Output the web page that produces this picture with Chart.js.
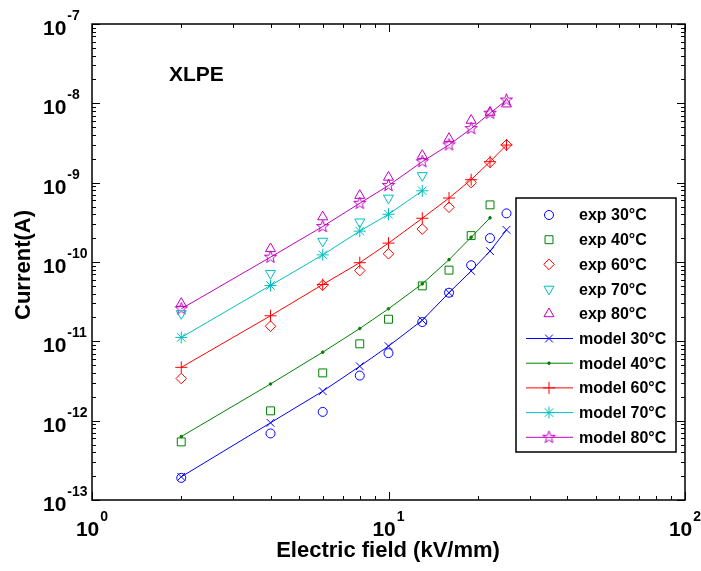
<!DOCTYPE html>
<html>
<head>
<meta charset="utf-8">
<script src="https://cdn.jsdelivr.net/npm/chart.js@4.4.0/dist/chart.umd.min.js"></script>
<style>
    body { margin: 0; background: #fff; overflow: hidden; }
    #wrap { width: 701px; height: 571px; position: relative; }
</style>
</head>
<body>
<div id="wrap"><canvas id="ivChart"></canvas></div>
<script>
// Electric field values (kV/mm)
var fieldKV = [2, 4, 6, 8, 10, 13, 16, 19, 22, 25];

// Measured currents (A)
var exp30 = [1.9e-13, 6.9e-13, 1.29e-12, 3.7e-12, 7.1e-12, 1.75e-11, 4.1e-11, 9.1e-11, 2.0e-10, 4.1e-10];
var exp40 = [5.4e-13, 1.33e-12, 4.0e-12, 9.3e-12, 1.9e-11, 5.0e-11, 7.9e-11, 2.15e-10, 5.25e-10];
var exp60 = [3.4e-12, 1.55e-11, 5.1e-11, 7.8e-11, 1.27e-10, 2.6e-10, 4.9e-10, 1.0e-9, 1.8e-9, 3.0e-9];
var exp70 = [2.24e-11, 7.2e-11, 1.83e-10, 3.2e-10, 6.4e-10, 1.23e-9];
var exp80 = [3.0e-11, 1.47e-10, 3.7e-10, 6.9e-10, 1.17e-9, 2.2e-9, 3.6e-9, 6.1e-9, 7.7e-9, 9.8e-9];

// Model currents (A)
var model30 = [1.96e-13, 9.4e-13, 2.35e-12, 4.85e-12, 8.7e-12, 1.84e-11, 4.1e-11, 7.7e-11, 1.37e-10, 2.54e-10];
var model40 = [6.3e-13, 2.9e-12, 7.3e-12, 1.45e-11, 2.57e-11, 5.3e-11, 1.07e-10, 2.05e-10, 3.6e-10];
var model60 = [4.7e-12, 2.1e-11, 5.2e-11, 9.8e-11, 1.73e-10, 3.56e-10, 6.4e-10, 1.09e-9, 1.84e-9, 2.98e-9];
var model70 = [1.12e-11, 5.06e-11, 1.23e-10, 2.45e-10, 4.0e-10, 7.9e-10];
var model80 = [2.57e-11, 1.15e-10, 2.8e-10, 5.5e-10, 9.2e-10, 1.84e-9, 3.0e-9, 4.8e-9, 7.5e-9, 1.1e-8];

// Axis decades (exponents)
var xDecades = [0, 1, 2];
var yDecades = [-13, -12, -11, -10, -9, -8, -7];

var BLUE = '#0000ff', GREEN = '#008000', RED = '#ff0000', CYAN = '#00bfbf', MAGENTA = '#bf00bf';

// pentagram marker for model 80
function makePentagram(color) {
    var c = document.createElement('canvas');
    c.width = 15; c.height = 15;
    var g = c.getContext('2d');
    g.strokeStyle = color;
    g.lineWidth = 1;
    g.beginPath();
    for (var i = 0; i < 10; i++) {
        var r = (i % 2 === 0) ? 6.5 : 2.6;
        var a = -Math.PI / 2 + i * Math.PI / 5;
        var px = 7.5 + r * Math.cos(a), py = 7.5 + r * Math.sin(a);
        if (i === 0) g.moveTo(px, py); else g.lineTo(px, py);
    }
    g.closePath();
    g.stroke();
    return c;
}
var pentagram = makePentagram(MAGENTA);

function pts(ys) {
    return ys.map(function (v, i) { return { x: fieldKV[i], y: v }; });
}

function expSet(label, ys, color, style, radius, rotation) {
    return {
        label: label, data: pts(ys), showLine: false,
        borderColor: color, backgroundColor: 'rgba(0,0,0,0)',
        pointStyle: style, pointRadius: radius, pointRotation: rotation || 0,
        pointBorderWidth: 1, pointBackgroundColor: 'rgba(0,0,0,0)', pointBorderColor: color,
        isExp: true
    };
}

function modelSet(label, ys, color, style, radius, filled) {
    return {
        label: label, data: pts(ys), showLine: true, borderWidth: 1,
        borderColor: color, backgroundColor: color,
        pointStyle: style, pointRadius: radius, pointBorderWidth: 1,
        pointBackgroundColor: filled ? color : 'rgba(0,0,0,0)', pointBorderColor: color,
        tension: 0, isExp: false
    };
}

var datasets = [
    expSet('exp 30°C', exp30, BLUE, 'circle', 4.5),
    expSet('exp 40°C', exp40, GREEN, 'rect', 5.6),
    expSet('exp 60°C', exp60, RED, 'rectRot', 5.3),
    expSet('exp 70°C', exp70, CYAN, 'triangle', 5.8, 180),
    expSet('exp 80°C', exp80, MAGENTA, 'triangle', 5.8),
    modelSet('model 30°C', model30, BLUE, 'crossRot', 5.5),
    modelSet('model 40°C', model40, GREEN, 'circle', 1.3, true),
    modelSet('model 60°C', model60, RED, 'cross', 6),
    modelSet('model 70°C', model70, CYAN, 'star', 6),
    modelSet('model 80°C', model80, MAGENTA, pentagram, 6)
];

function drawPow(ctx, base, exp, x, baseY, expY) {
    ctx.font = 'bold 21px "Liberation Sans", Arial, sans-serif';
    ctx.textAlign = 'left';
    ctx.textBaseline = 'alphabetic';
    ctx.fillText(base, x, baseY);
    var w = ctx.measureText(base).width;
    ctx.font = 'bold 14px "Liberation Sans", Arial, sans-serif';
    ctx.fillText(String(exp), x + w + 1, expY);
}

// frame, inward ticks, tick labels, titles and legend
var decorPlugin = {
    id: 'decor',
    afterDraw: function (chart) {
        var ctx = chart.ctx, a = chart.chartArea;
        var xs = chart.scales.x, ys = chart.scales.y;
        ctx.save();
        ctx.strokeStyle = '#000';
        ctx.fillStyle = '#000';

        // ticks
        ctx.lineWidth = 1;
        ctx.beginPath();
        xDecades.forEach(function (e, i) {
            var px = Math.round(xs.getPixelForValue(Math.pow(10, e))) + 0.5;
            ctx.moveTo(px, a.bottom); ctx.lineTo(px, a.bottom - 8);
            ctx.moveTo(px, a.top); ctx.lineTo(px, a.top + 8);
            if (i < xDecades.length - 1) {
                for (var m = 2; m <= 9; m++) {
                    var mx = Math.round(xs.getPixelForValue(m * Math.pow(10, e))) + 0.5;
                    ctx.moveTo(mx, a.bottom); ctx.lineTo(mx, a.bottom - 4);
                    ctx.moveTo(mx, a.top); ctx.lineTo(mx, a.top + 4);
                }
            }
        });
        yDecades.forEach(function (e, i) {
            var py = Math.round(ys.getPixelForValue(Math.pow(10, e))) + 0.5;
            ctx.moveTo(a.left, py); ctx.lineTo(a.left + 8, py);
            ctx.moveTo(a.right, py); ctx.lineTo(a.right - 8, py);
            if (i < yDecades.length - 1) {
                for (var m = 2; m <= 9; m++) {
                    var my = Math.round(ys.getPixelForValue(m * Math.pow(10, e))) + 0.5;
                    ctx.moveTo(a.left, my); ctx.lineTo(a.left + 4, my);
                    ctx.moveTo(a.right, my); ctx.lineTo(a.right - 4, my);
                }
            }
        });
        ctx.stroke();

        // frame
        ctx.lineWidth = 1.5;
        ctx.strokeRect(a.left, a.top, a.right - a.left, a.bottom - a.top);

        // y tick labels
        yDecades.forEach(function (e) {
            var py = ys.getPixelForValue(Math.pow(10, e));
            drawPow(ctx, '10', e, 43, py + 11, py - 4);
        });
        // x tick labels
        xDecades.forEach(function (e) {
            var px = xs.getPixelForValue(Math.pow(10, e));
            ctx.font = 'bold 21px "Liberation Sans", Arial, sans-serif';
            var w1 = ctx.measureText('10').width;
            ctx.font = 'bold 14px "Liberation Sans", Arial, sans-serif';
            var w2 = ctx.measureText(String(e)).width;
            drawPow(ctx, '10', e, px - (w1 + 1 + w2) / 2, 536, 521);
        });

        // axis titles
        ctx.font = 'bold 22px "Liberation Sans", Arial, sans-serif';
        ctx.textAlign = 'center';
        ctx.textBaseline = 'middle';
        ctx.fillText('Electric field (kV/mm)', 388, 551);
        ctx.save();
        ctx.translate(24, 265);
        ctx.rotate(-Math.PI / 2);
        ctx.fillText('Current(A)', 0, 0);
        ctx.restore();

        // sample label
        ctx.font = 'bold 21px "Liberation Sans", Arial, sans-serif';
        ctx.textAlign = 'left';
        ctx.textBaseline = 'alphabetic';
        ctx.fillText('XLPE', 169, 81);

        // legend
        var lx = 516, ly = 198, lw = 160, lh = 254;
        ctx.fillStyle = '#fff';
        ctx.fillRect(lx, ly, lw, lh);
        ctx.lineWidth = 1.5;
        ctx.strokeStyle = '#000';
        ctx.strokeRect(lx, ly, lw, lh);
        chart.data.datasets.forEach(function (ds, i) {
            var ry = 215 + i * 24.7;
            ctx.strokeStyle = ds.borderColor;
            if (!ds.isExp) {
                ctx.lineWidth = 1;
                ctx.beginPath();
                ctx.moveTo(526, ry); ctx.lineTo(573, ry);
                ctx.stroke();
            }
            ctx.fillStyle = ds.pointBackgroundColor;
            ctx.lineWidth = 1;
            Chart.helpers.drawPoint(ctx, {
                pointStyle: ds.pointStyle, radius: ds.pointRadius,
                rotation: ds.pointRotation || 0, borderWidth: 1
            }, 549, ry);
            ctx.fillStyle = '#000';
            ctx.font = 'bold 16px "Liberation Sans", Arial, sans-serif';
            ctx.textAlign = 'left';
            ctx.textBaseline = 'middle';
            ctx.fillText(ds.label, 579, ry + 1);
        });
        ctx.restore();
    }
};

var ctx = document.getElementById('ivChart').getContext('2d');
var ivChart = new Chart(ctx, {
    type: 'line',
    data: { datasets: datasets },
    options: {
        responsive: true,
        maintainAspectRatio: false,
        animation: false,
        layout: { padding: { top: 24, right: 16, left: 0, bottom: 0 } },
        plugins: { legend: { display: false }, tooltip: { enabled: false } },
        scales: {
            x: {
                type: 'logarithmic', min: 1, max: 100,
                grid: { display: false }, border: { display: false },
                ticks: { display: false },
                afterFit: function (scale) { scale.height = 71; }
            },
            y: {
                type: 'logarithmic', min: 1e-13, max: 1e-7,
                grid: { display: false }, border: { display: false },
                ticks: { display: false },
                afterFit: function (scale) { scale.width = 92; }
            }
        }
    },
    plugins: [decorPlugin]
});
</script>
</body>
</html>
